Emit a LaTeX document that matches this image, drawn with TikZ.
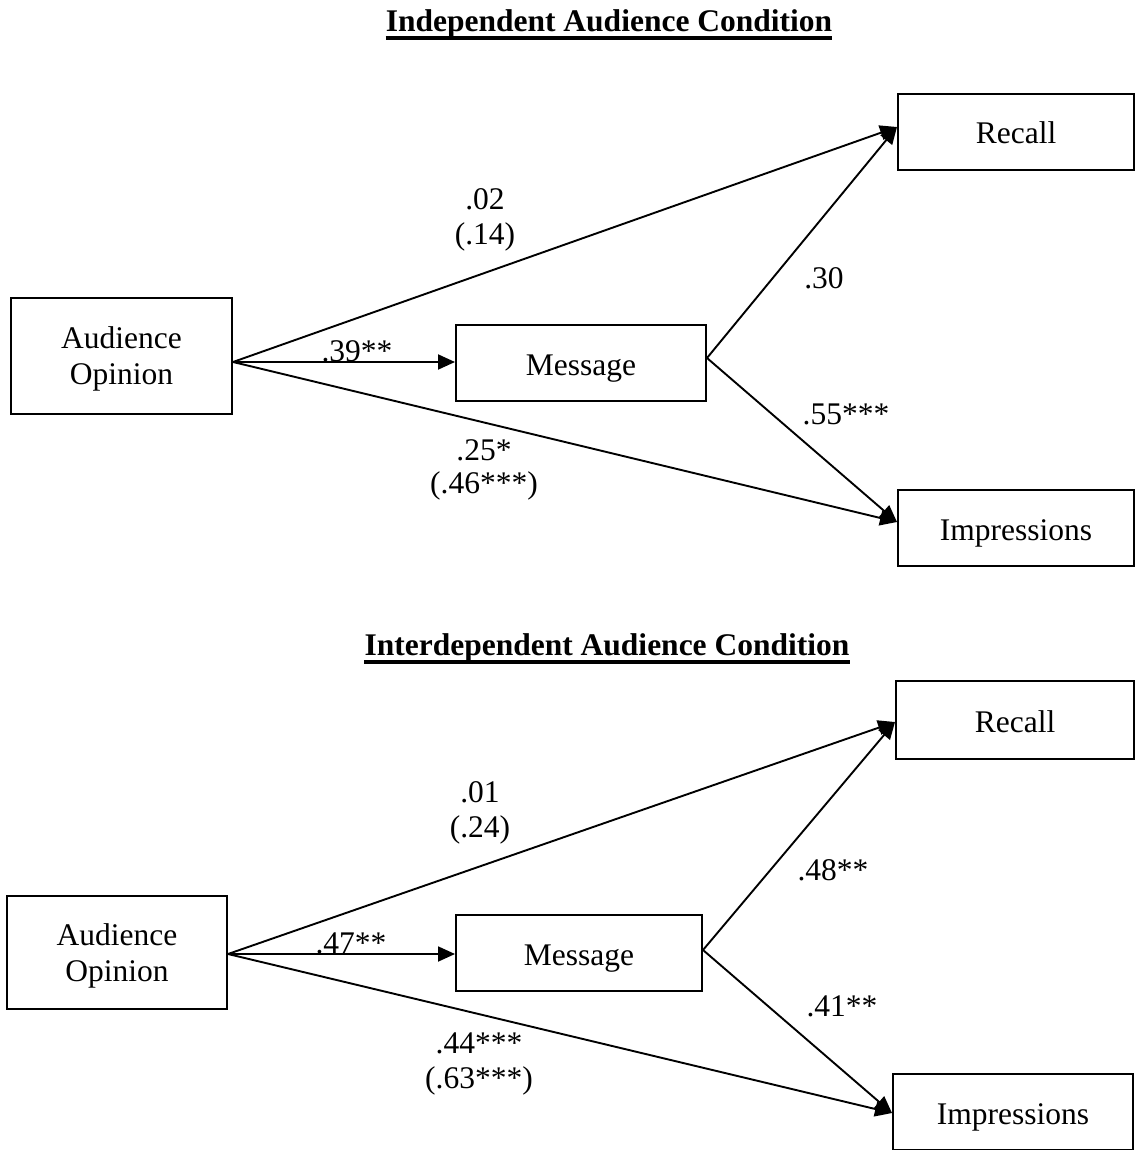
\documentclass[tikz,border=0pt]{standalone}
\usepackage{fontspec}
\setmainfont{Liberation Serif}
\usetikzlibrary{arrows.meta}
\newcommand\myfs{\fontsize{31.5pt}{36pt}\selectfont}
\begin{document}
\begin{tikzpicture}[x=1pt,y=-1pt,
  box/.style n args={2}{draw, line width=2pt, inner sep=0pt, minimum width=#1, minimum height=#2, align=center, font=\myfs},
  one/.style={text height=24pt, text depth=0pt},
  two/.style={text depth=0pt},
  lbl/.style={inner sep=0pt, anchor=base, font=\myfs},
  ttl/.style={inner sep=0pt, anchor=base, font=\myfs\bfseries},
  arr/.style={line width=1.9pt, -{Triangle[length=17pt,width=15pt]}},
  ul/.style={line width=3.5pt}]
\useasboundingbox (0,0) rectangle (1135,1150);

% ---------- Top panel ----------
\node[ttl] (t1) at (609,32) {Independent Audience Condition};
\draw[ul] ([yshift=-6pt]t1.base west) -- ([yshift=-6pt]t1.base east);

\node[box={221pt}{116pt}, two] (ao) at (121.5,356) {Audience\\Opinion};
\node[box={250pt}{76pt}, one] (msg) at (581,363) {Message};
\node[box={236pt}{76pt}, one] (rc) at (1016,132) {Recall};
\node[box={236pt}{76pt}, one] (im) at (1016,528) {Impressions};

\coordinate (s1) at ([yshift=-6pt]ao.east);
\coordinate (m1) at ([yshift=5pt]msg.east);
\coordinate (r1) at ([yshift=5pt]rc.west);
\coordinate (i1) at ([yshift=6pt]im.west);

\draw[arr] (s1) -- (s1 -| msg.west);
\draw[arr] (s1) -- (r1);
\draw[arr] (s1) -- (i1);
\draw[arr] (m1) -- (r1);
\draw[arr] (m1) -- (i1);

\node[lbl] (l1a) at (485,210) {.02};
\node[lbl] (l1b) at (485,244) {(.14)};
\node[lbl] (l2) at (357,361) {.39**};
\node[lbl] (l3) at (824,288) {.30};
\node[lbl] (l4) at (846,424) {.55***};
\node[lbl] (l5a) at (484,460) {.25*};
\node[lbl] (l5b) at (484,493) {(.46***)};

% ---------- Bottom panel ----------
\node[ttl] (t2) at (607,655) {Interdependent Audience Condition};
\draw[ul] ([yshift=-7pt]t2.base west) -- ([yshift=-7pt]t2.base east);

\node[box={220pt}{113pt}, two] (ao2) at (117,952.5) {Audience\\Opinion};
\node[box={246pt}{76pt}, one] (msg2) at (579,953) {Message};
\node[box={238pt}{78pt}, one] (rc2) at (1015,720) {Recall};
\node[box={240pt}{76pt}, one] (im2) at (1013,1112) {Impressions};

\coordinate (s2) at ([yshift=-1.5pt]ao2.east);
\coordinate (m2) at ([yshift=3pt]msg2.east);
\coordinate (r2) at ([yshift=-2pt]rc2.west);
\coordinate (i2) at ([yshift=-1pt]im2.west);

\draw[arr] (s2) -- (s2 -| msg2.west);
\draw[arr] (s2) -- (r2);
\draw[arr] (s2) -- (i2);
\draw[arr] (m2) -- (r2);
\draw[arr] (m2) -- (i2);

\node[lbl] (k1a) at (480,802) {.01};
\node[lbl] (k1b) at (480,837) {(.24)};
\node[lbl] (k2) at (351,953) {.47**};
\node[lbl] (k3) at (833,880) {.48**};
\node[lbl] (k4) at (842,1016) {.41**};
\node[lbl] (k5a) at (479,1053) {.44***};
\node[lbl] (k5b) at (479,1088) {(.63***)};
\end{tikzpicture}
\end{document}
